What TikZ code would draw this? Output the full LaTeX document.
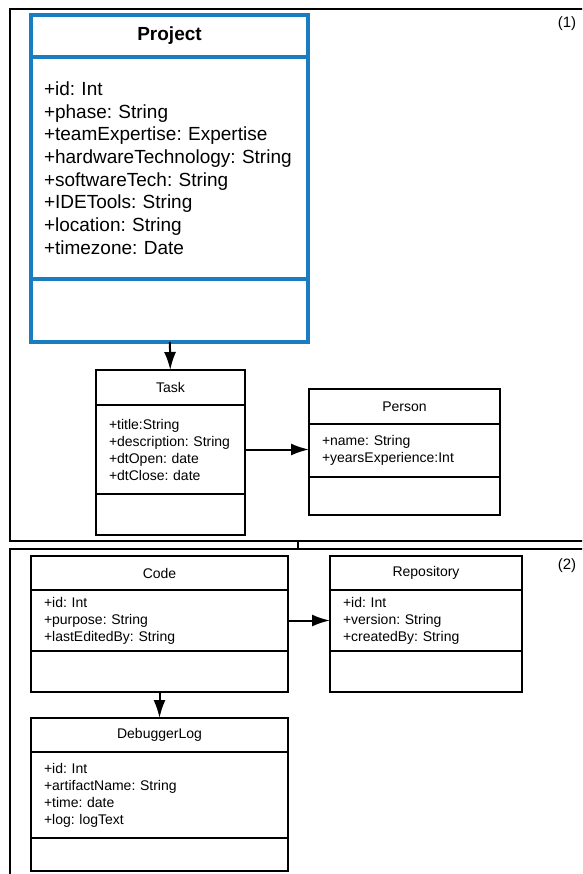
\documentclass[tikz,border=0pt]{standalone}
\usepackage{fontspec}
\setmainfont{Liberation Sans}
\usetikzlibrary{arrows.meta,positioning}
\definecolor{umlblue}{HTML}{1B7DC1}
\frenchspacing

\begin{document}
\begin{tikzpicture}[x=1pt, y=-1pt,
    every node/.style={font=\fontsize{14}{17}\selectfont},
    frame/.style={draw, line width=1.8pt, outer sep=0pt},
    clshead/.style={draw, line width=1.8pt, outer sep=0pt, anchor=north west},
    clsbody/.style={draw, line width=1.8pt, outer sep=0pt, align=left, inner xsep=13pt},
    bigcls/.style={draw=umlblue, line width=3.5pt},
    assoc/.style={-{Latex[length=18pt, width=12pt]}, line width=2pt}]
  \clip (0,0) rectangle (582,874);
  % frames
  \node[frame, minimum width=576, minimum height=532] (part1) at (298,275) {};
  \node[frame, minimum width=576, minimum height=341] (part2) at (298,719.5) {};
  \draw[line width=1.8pt] (part1) -- (part2);
  \node[font=\fontsize{15}{17}\selectfont] (lbl1) at (567,24) {(1)};
  \node[font=\fontsize{15}{17}\selectfont] (lbl2) at (567,566) {(2)};

  % Project
  \node[clshead, bigcls, minimum width=277, minimum height=42, font=\fontsize{19}{22}\selectfont\bfseries] (project) at (31,15) {Project};
  \node[clsbody, bigcls, text width=251, minimum height=222, below=0pt of project, font=\fontsize{19}{22.7}\selectfont] (projattr) {+id: Int\\+phase: String\\+teamExpertise: Expertise\\+hardwareTechnology: String\\+softwareTech: String\\+IDETools: String\\+location: String\\+timezone: Date};
  \node[clsbody, bigcls, text width=251, minimum height=63, below=0pt of projattr] (projops) {};

  % Task
  \node[clshead, minimum width=149, minimum height=35] (task) at (96,370) {Task};
  \node[clsbody, text width=123, minimum height=89, below=0pt of task] (taskattr) {+title:String\\+description: String\\+dtOpen: date\\+dtClose: date};
  \node[clsbody, text width=123, minimum height=41, below=0pt of taskattr] (taskops) {};

  % Person
  \node[clshead, minimum width=191, minimum height=35] (person) at (309,389) {Person};
  \node[clsbody, text width=165, minimum height=53, below=0pt of person] (personattr) {+name: String\\+yearsExperience:Int};
  \node[clsbody, text width=165, minimum height=38, below=0pt of personattr] (personops) {};

  % Code
  \node[clshead, minimum width=257, minimum height=34] (code) at (31,556) {Code};
  \node[clsbody, text width=231, minimum height=61, below=0pt of code] (codeattr) {+id: Int\\+purpose: String\\+lastEditedBy: String};
  \node[clsbody, text width=231, minimum height=41, below=0pt of codeattr] (codeops) {};

  % Repository
  \node[clshead, minimum width=192, minimum height=34] (repo) at (330,556) {Repository};
  \node[clsbody, text width=166, minimum height=61, below=0pt of repo] (repoattr) {+id: Int\\+version: String\\+createdBy: String};
  \node[clsbody, text width=166, minimum height=41, below=0pt of repoattr] (repoops) {};

  % DebuggerLog
  \node[clshead, minimum width=257, minimum height=34] (dbglog) at (31,718) {DebuggerLog};
  \node[clsbody, text width=231, minimum height=86, below=0pt of dbglog] (dbgattr) {+id: Int\\+artifactName: String\\+time: date\\+log: logText};
  \node[clsbody, text width=231, minimum height=33, below=0pt of dbgattr] (dbgops) {};

  % associations
  \draw[assoc] (projops) -- (task);
  \draw[assoc] (taskattr.east) -- (taskattr.east -| personattr.west);
  \draw[assoc] (codeattr.east) -- (codeattr.east -| repoattr.west);
  \draw[assoc] (codeops) -- (dbglog);
\end{tikzpicture}
\end{document}
